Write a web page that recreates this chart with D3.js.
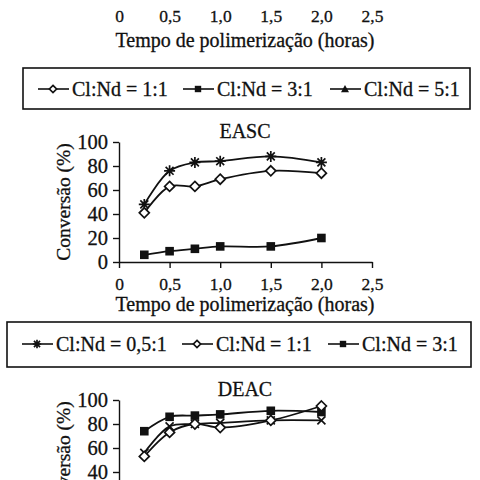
<!DOCTYPE html>
<html><head><meta charset="utf-8">
<script src="https://cdn.jsdelivr.net/npm/d3@7"></script>
<style>body{margin:0;background:#fff}svg{display:block}text{font-family:"Liberation Serif","DejaVu Serif",serif;fill:#111;stroke:#111;stroke-width:0.3}</style>
</head><body>
<script>
// ---- data ----
const hours = [0.25, 0.5, 0.75, 1.0, 1.5, 2.0];
const xTickValues = [0, 0.5, 1.0, 1.5, 2.0, 2.5];
const xTickLabels = ["0", "0,5", "1,0", "1,5", "2,0", "2,5"];
const yTickValues = [0, 20, 40, 60, 80, 100];
const easc_05 = [48, 76, 83, 84, 88, 83];
const easc_1 = [41, 63, 63, 69, 76, 74];
const easc_3 = [6, 9, 11, 13, 13, 20];
const deac_05 = [56, 78, 80, 81, 83, 83];
const deac_1 = [53, 73, 80, 77, 83, 95];
const deac_3 = [74, 86, 87, 88, 91, 90];
const legendTop = ["Cl:Nd = 1:1", "Cl:Nd = 3:1", "Cl:Nd = 5:1"];
const legendMid = ["Cl:Nd = 0,5:1", "Cl:Nd = 1:1", "Cl:Nd = 3:1"];
const xTitle = "Tempo de polimerização (horas)";
const yTitle = "Conversão (%)";

const W = 480, H = 480;
const svg = d3.select("body").append("svg").attr("width", W).attr("height", H);
const x = d3.scaleLinear().domain([0, 2.5]).range([119, 372]);

function marker(g, type, cx, cy, s) {
  if (type === "diamond") {
    g.append("path").attr("d", `M${cx},${cy - s}L${cx + s},${cy}L${cx},${cy + s}L${cx - s},${cy}Z`)
      .attr("fill", "#fff").attr("stroke", "#111").attr("stroke-width", 1.7);
  } else if (type === "square") {
    g.append("rect").attr("x", cx - s).attr("y", cy - s).attr("width", 2 * s).attr("height", 2 * s).attr("fill", "#111");
  } else if (type === "triangle") {
    g.append("path").attr("d", `M${cx},${cy - s}L${cx + s},${cy + s * 0.8}L${cx - s},${cy + s * 0.8}Z`).attr("fill", "#111");
  } else if (type === "star") {
    const d = s * 0.72;
    g.append("path").attr("d", `M${cx},${cy - s}V${cy + s}M${cx - s},${cy}H${cx + s}M${cx - d},${cy - d}L${cx + d},${cy + d}M${cx - d},${cy + d}L${cx + d},${cy - d}`)
      .attr("stroke", "#111").attr("stroke-width", 1.7).attr("fill", "none");
  } else if (type === "cross") {
    const d = s * 0.8;
    g.append("path").attr("d", `M${cx - d},${cy - d}L${cx + d},${cy + d}M${cx - d},${cy + d}L${cx + d},${cy - d}`)
      .attr("stroke", "#111").attr("stroke-width", 1.7).attr("fill", "none");
  }
}
const msize = { diamond: 5, square: 4.3, star: 5.5, cross: 5, triangle: 4.5 };

function xAxis(yPos, withLine, titleOffset) {
  const g = svg.append("g").attr("transform", `translate(0,${yPos})`)
    .call(d3.axisBottom(x).tickValues(xTickValues).tickFormat((d, i) => xTickLabels[i])
      .tickSizeInner(6).tickSizeOuter(0).tickPadding(10));
  g.select(".domain").attr("stroke", "#111").attr("stroke-width", 1.4).attr("opacity", withLine ? 1 : 0);
  g.selectAll(".tick line").attr("stroke", "#111").attr("stroke-width", 1.4).attr("opacity", withLine ? 1 : 0);
  g.selectAll(".tick text").attr("font-size", 17.5).attr("font-family", "Liberation Serif").attr("fill", "#111");
  svg.append("text").attr("x", 245).attr("y", yPos + titleOffset).attr("text-anchor", "middle")
    .attr("font-size", 20).text(xTitle);
}

function panel(title, y0, series) {
  const y = d3.scaleLinear().domain([0, 100]).range([y0, y0 - 120]);
  const ga = svg.append("g").attr("transform", "translate(119,0)")
    .call(d3.axisLeft(y).tickValues(yTickValues).tickSizeInner(6).tickSizeOuter(0).tickPadding(5));
  ga.select(".domain").attr("stroke", "#111").attr("stroke-width", 1.4);
  ga.selectAll(".tick line").attr("stroke", "#111").attr("stroke-width", 1.4);
  ga.selectAll(".tick text").attr("font-size", 20.5).attr("font-family", "Liberation Serif").attr("fill", "#111");
  xAxis(y0, true, 49);
  svg.append("text").attr("x", 245).attr("y", y0 - 124).attr("text-anchor", "middle").attr("font-size", 20).text(title);
  svg.append("text").attr("transform", `translate(70,${y0 - 60}) rotate(-90)`).attr("text-anchor", "middle")
    .attr("font-size", 19.5).text(yTitle);
  const line = d3.line().x((d, i) => x(hours[i])).y(d => y(d)).curve(d3.curveCatmullRom.alpha(0.5));
  series.forEach(s => {
    svg.append("path").attr("d", line(s.values)).attr("fill", "none").attr("stroke", "#111").attr("stroke-width", 1.8);
  });
  series.forEach(s => {
    const g = svg.append("g");
    s.values.forEach((v, i) => marker(g, s.marker, x(hours[i]), y(v), msize[s.marker]));
  });
}

function legend(box, starts, baseline, labels, markers) {
  svg.append("rect").attr("x", box[0]).attr("y", box[1]).attr("width", box[2] - box[0]).attr("height", box[3] - box[1])
    .attr("fill", "none").attr("stroke", "#111").attr("stroke-width", 1.6);
  labels.forEach((lab, i) => {
    const x0 = starts[i], cy = baseline - 7;
    svg.append("line").attr("x1", x0).attr("x2", x0 + 31).attr("y1", cy).attr("y2", cy).attr("stroke", "#111").attr("stroke-width", 1.6);
    const ms = { diamond: 3.6, square: 3.2, triangle: 4, star: 4.2 }[markers[i]];
    marker(svg, markers[i], x0 + 15, cy, ms);
    svg.append("text").attr("x", x0 + 34).attr("y", baseline).attr("font-size", 20).text(lab);
  });
}

// top partial chart: only its x labels visible
xAxis(-6, false, 53);
legend([23, 68, 470, 109], [38, 183, 330], 96, legendTop, ["diamond", "square", "triangle"]);

panel("EASC", 262, [
  { values: easc_05, marker: "star" },
  { values: easc_1, marker: "diamond" },
  { values: easc_3, marker: "square" }
]);
legend([7, 322, 471, 367], [22, 182, 328], 351, legendMid, ["star", "diamond", "square"]);

panel("DEAC", 520, [
  { values: deac_3, marker: "square" },
  { values: deac_05, marker: "cross" },
  { values: deac_1, marker: "diamond" }
]);
</script>
</body></html>
